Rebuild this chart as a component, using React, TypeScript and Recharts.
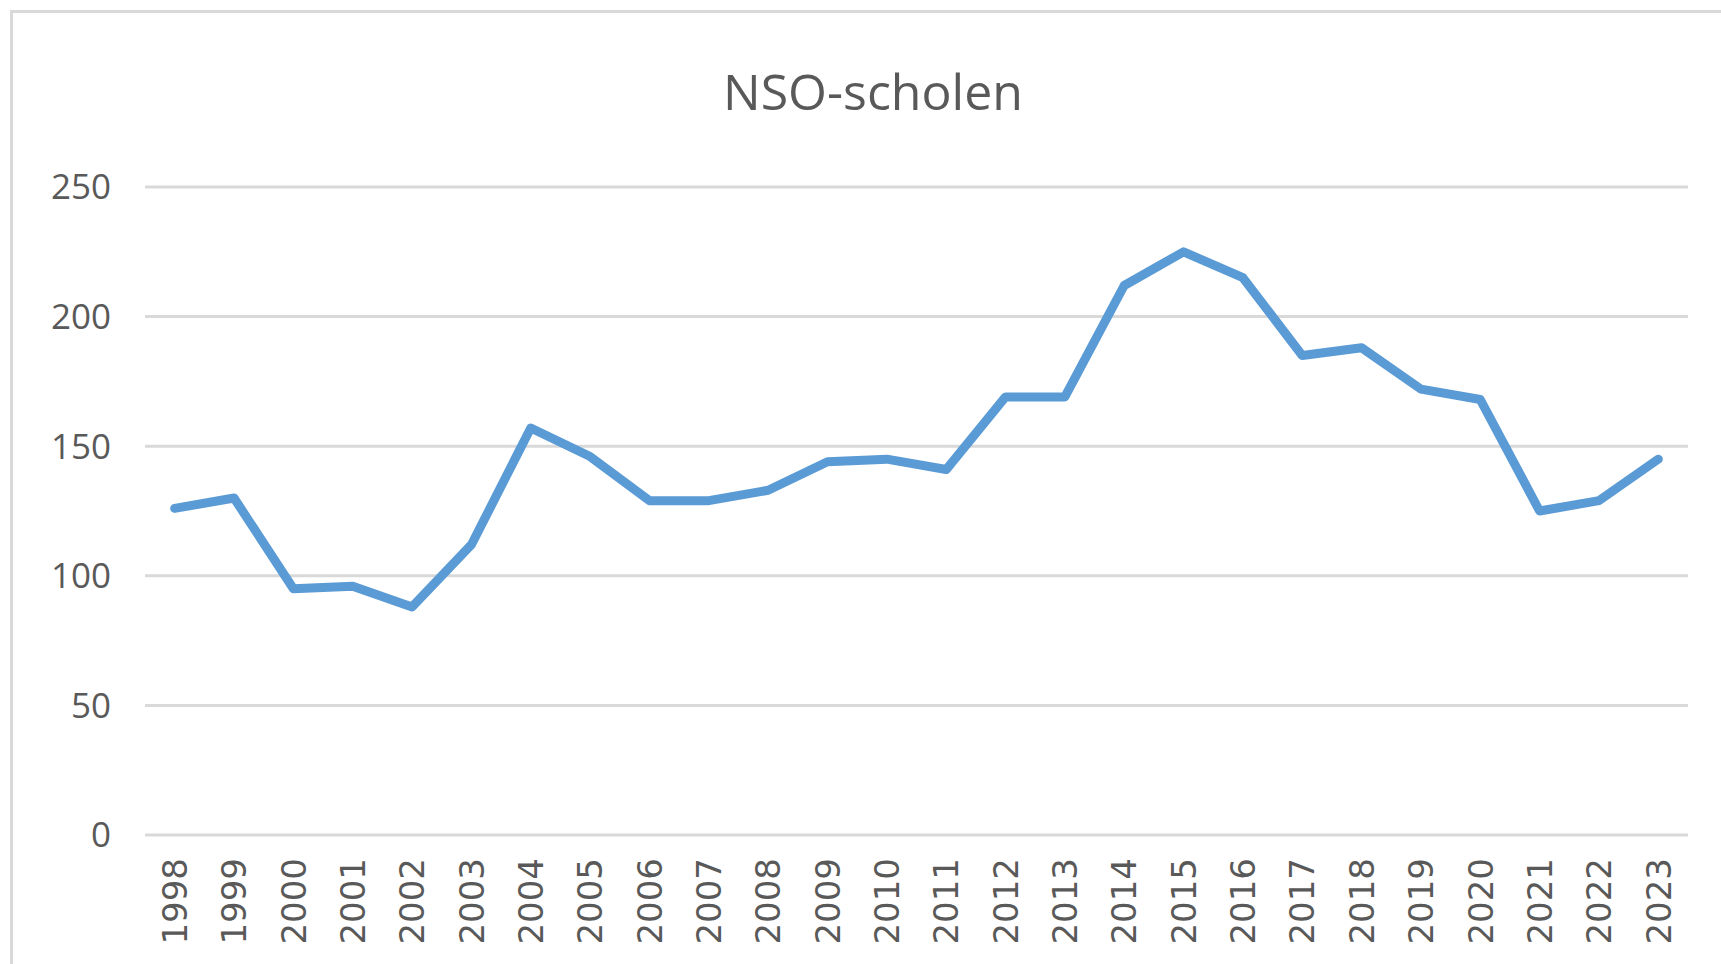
import { CartesianGrid, Line, LineChart, XAxis, YAxis } from "recharts";

const years = [
    "1998", "1999", "2000", "2001", "2002", "2003", "2004", "2005", "2006", "2007", "2008", "2009", "2010",
    "2011", "2012", "2013", "2014", "2015", "2016", "2017", "2018", "2019", "2020", "2021", "2022", "2023",
];

const schools = [
    126, 130, 95, 96, 88, 112, 157, 146, 129, 129, 133, 144, 145,
    141, 169, 169, 212, 225, 215, 185, 188, 172, 168, 125, 129, 145,
];

const yTicks = [0, 50, 100, 150, 200, 250];

const chartTitle = "NSO-scholen";

const data = years.map((year, i) => ({ year, total: schools[i] }));

const W = 1721;
const H = 964;

function YearTick(props: any) {
    const { x, y, payload } = props;
    return (
        <text
            x={x}
            y={y}
            dy="0.36em"
            textAnchor="end"
            transform={`rotate(-90 ${x} ${y})`}
            fill="#595959"
            fontSize={34}
            fontFamily="DejaVu Sans"
        >
            {payload.value}
        </text>
    );
}

export default function App() {
    return (
        <div style={{ position: "absolute", left: 0, top: 0, width: W, height: H, overflow: "hidden", background: "#fff" }}>
            <div
                style={{
                    position: "absolute",
                    left: 10,
                    top: 10,
                    width: W,
                    height: H,
                    borderLeft: "3px solid #d9d9d9",
                    borderTop: "3px solid #d9d9d9",
                }}
            />
            <div style={{ position: "absolute", left: 0, top: 0 }}>
                <LineChart width={W} height={H} data={data} margin={{ top: 187, right: 33, bottom: 18, left: 45 }}>
                    <CartesianGrid vertical={false} stroke="#d9d9d9" strokeWidth={3} />
                    <XAxis
                        dataKey="year"
                        interval={0}
                        height={111}
                        axisLine={false}
                        tickLine={false}
                        tickSize={0}
                        tickMargin={23}
                        padding={{ left: 29.7, right: 29.7 }}
                        tick={<YearTick />}
                    />
                    <YAxis
                        domain={[0, 250]}
                        ticks={yTicks}
                        width={100}
                        axisLine={false}
                        tickLine={false}
                        tickSize={0}
                        tickMargin={34}
                        tick={{ fill: "#595959", fontSize: 35, fontFamily: "Open Sans" }}
                    />
                    <Line
                        type="linear"
                        dataKey="total"
                        stroke="#5b9bd5"
                        strokeWidth={9}
                        strokeLinecap="round"
                        strokeLinejoin="round"
                        dot={false}
                        activeDot={false}
                        isAnimationActive={false}
                    />
                </LineChart>
            </div>
            <svg width={W} height={H} style={{ position: "absolute", left: 0, top: 0, pointerEvents: "none" }}>
                <text x={873} y={110} textAnchor="middle" fill="#595959" fontSize={50} fontFamily="Open Sans">
                    {chartTitle}
                </text>
            </svg>
        </div>
    );
}
